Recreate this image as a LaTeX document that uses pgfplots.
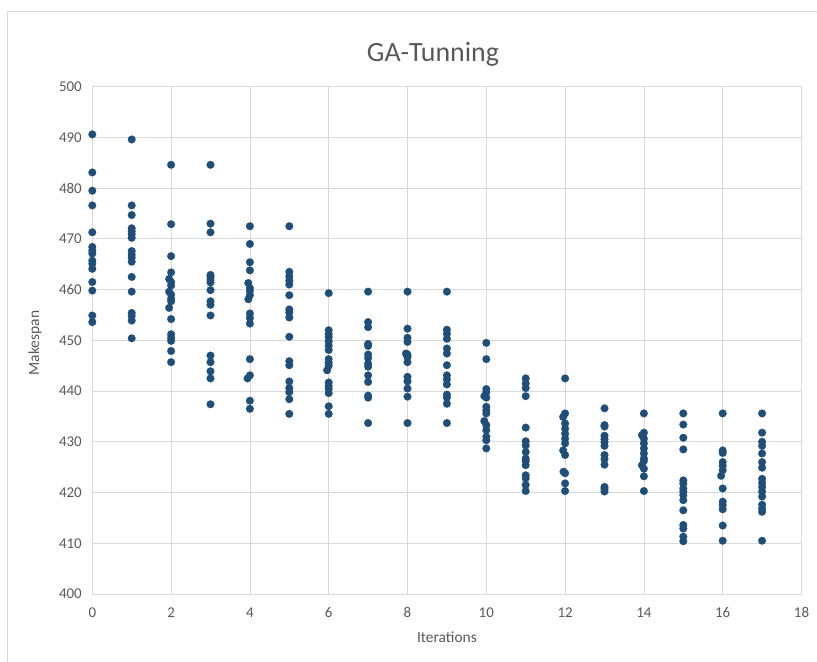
\documentclass[border=0pt]{standalone}
\usepackage{pgfplots}
\pgfplotsset{compat=1.18}
\usepackage{pgfplotstable}
\usepackage{fontspec}
\setmainfont{Carlito}
\definecolor{txt}{HTML}{595959}
\definecolor{grd}{HTML}{D9D9D9}
\definecolor{pt}{HTML}{1F4E79}
\pgfplotstableread{
x y
0 490.6
0 483.1
-0.06 482.2
0 479.5
-0.06 478.3
0 476.6
-0.06 473.5
0 471.3
0 468.4
0 467.7
0 467.1
0 465.7
0 465.1
0 464.1
0 461.5
0 459.8
0 454.9
0 453.6
1 489.6
1 476.6
1 474.7
1 472.1
1 471.5
1 470.9
1 470.2
1 467.6
1 466.9
1 466.3
1 465.5
1 462.5
1 459.6
1 455.4
1 454.8
1 453.9
1 450.4
2 484.6
2 472.9
2 466.6
2 463.4
1.95 462.1
2 461.5
2 460.8
1.95 459.6
2 459.0
2 458.2
2 457.7
1.95 456.4
2 454.2
2 451.2
2 450.5
2 449.9
2 447.9
2 445.7
3 484.6
3 473.0
3 471.3
3 462.9
3 462.5
3 461.9
3 461.4
3 459.9
3 457.7
3 457.0
3 454.9
3 447.0
3 445.7
3 443.9
3 442.5
3 437.4
4 472.5
4 469.0
4 465.4
4 463.8
3.96 461.3
4 460.3
4 459.7
4 458.9
3.96 458.1
4 455.3
4 454.4
4 453.3
4 446.3
4 443.1
3.94 442.5
4 438.1
4 436.5
5 472.5
5 463.5
5 462.6
5 461.8
5 461.0
5 458.9
5 456.1
5 455.5
5 454.5
5 450.7
5 445.9
5 445.1
5 441.9
5 440.6
5 439.8
5 438.4
5 435.5
6 459.3
6 452.0
6 451.2
6 450.6
6 449.8
6 449.0
6 448.1
6 446.3
6 445.6
6 445.0
5.96 444.1
6 441.7
6 441.0
6 440.4
6 439.6
6 437.0
6 435.5
7 459.6
7 453.6
7 452.6
7 449.3
7 448.9
7 447.2
7 446.5
7 445.4
7 444.8
7 443.1
7 441.8
7 439.1
7 438.7
7 433.7
8 459.6
8 452.3
8 450.5
8 449.7
7.96 447.4
8 447.2
8 446.7
8 445.7
8 442.8
8 441.9
8 440.5
8 438.9
8 433.7
9 459.6
9 452.1
9 451.3
9 450.3
9 448.4
9 447.4
9 445.1
9 443.1
9 442.3
9 441.3
9 439.3
9 438.7
9 437.5
9 433.7
10 449.5
10 446.3
10 440.4
10 439.8
9.95 439.0
10 438.7
10 436.9
10 436.2
10 435.6
9.95 434.1
10 433.3
10 432.3
10 431.0
10 430.3
10 428.7
11 442.5
11 441.5
11 440.6
11 439.0
11 432.8
11 430.1
11 429.3
11 428.0
11 426.7
11 426.2
11 425.4
11 423.4
11 422.8
11 421.5
11 420.3
12 442.5
12 435.6
11.95 434.9
12 433.6
12 432.6
12 431.6
12 430.6
12 429.7
11.95 428.3
12 427.4
11.96 424.1
12 423.8
12 421.8
12 420.3
13 436.6
13 433.3
13 433.0
13 431.2
13 430.5
13 429.9
13 429.2
13 427.4
13 426.6
13 425.5
13 421.1
13 420.7
13 420.2
14 435.6
14 431.8
13.95 431.3
14 430.6
14 429.7
14 428.7
14 427.7
14 426.7
14 426.2
13.95 425.4
14 424.7
14 423.2
14 420.3
15 435.6
15 433.4
15 430.8
15 428.5
15 422.4
15 421.8
15 420.8
15 420.2
15 419.5
15 418.5
15 416.5
15 413.6
15 412.9
15 411.3
15 410.4
16 435.6
16 428.3
16 427.8
16 426.0
16 425.3
16 424.4
15.96 423.3
16 420.8
16 418.2
16 417.5
16 416.7
16 413.5
16 410.5
17 435.6
17 431.8
17 430.0
17 429.2
17 427.7
17 426.0
17 424.9
17 422.7
17 421.9
17 421.1
17 420.2
17 419.2
17 417.6
17 416.8
17 416.2
17 410.5
}\gadata
\begin{document}
\begin{tikzpicture}
\useasboundingbox (-92.3bp,-68bp) rectangle (724.7bp,594bp);
\draw[grd, line width=1bp] (-84.3bp,-68bp) -- (-84.3bp,582bp) -- (724.7bp,582bp);
\begin{axis}[
  at={(0,0)}, anchor=south west,
  scale only axis, width=709.2bp, height=507.3bp,
  xmin=0, xmax=18, ymin=400, ymax=500,
  xtick={0,2,...,18}, ytick={400,410,...,500},
  grid=major, major grid style={grd, line width=0.8bp},
  axis line style={grd, line width=0.8bp},
  major tick length=0pt,
  /pgf/number format/assume math mode=true,
  tick label style={font=\fontsize{15}{18}\selectfont, text=txt},
  xticklabel style={yshift=-10bp},
  yticklabel style={xshift=-7bp},
  title={GA-Tunning},
  title style={at={(axis description cs:0.4804,1.0527)}, anchor=center, font=\fontsize{28}{32}\selectfont, text=txt},
  xlabel={Iterations},
  xlabel style={at={(axis description cs:0.5,-0.0848)}, anchor=center, font=\fontsize{15.5}{18}\selectfont, text=txt},
  ylabel={Makespan},
  ylabel style={at={(axis description cs:-0.0808,0.4948)}, anchor=center, rotate=0, font=\fontsize{15.5}{18}\selectfont, text=txt},
]
\addplot[pt, only marks, mark=*, mark size=3.9bp, mark options={fill=pt, draw=pt, line width=0.1bp}] table[x=x, y=y] {\gadata};
\end{axis}
\end{tikzpicture}
\end{document}
